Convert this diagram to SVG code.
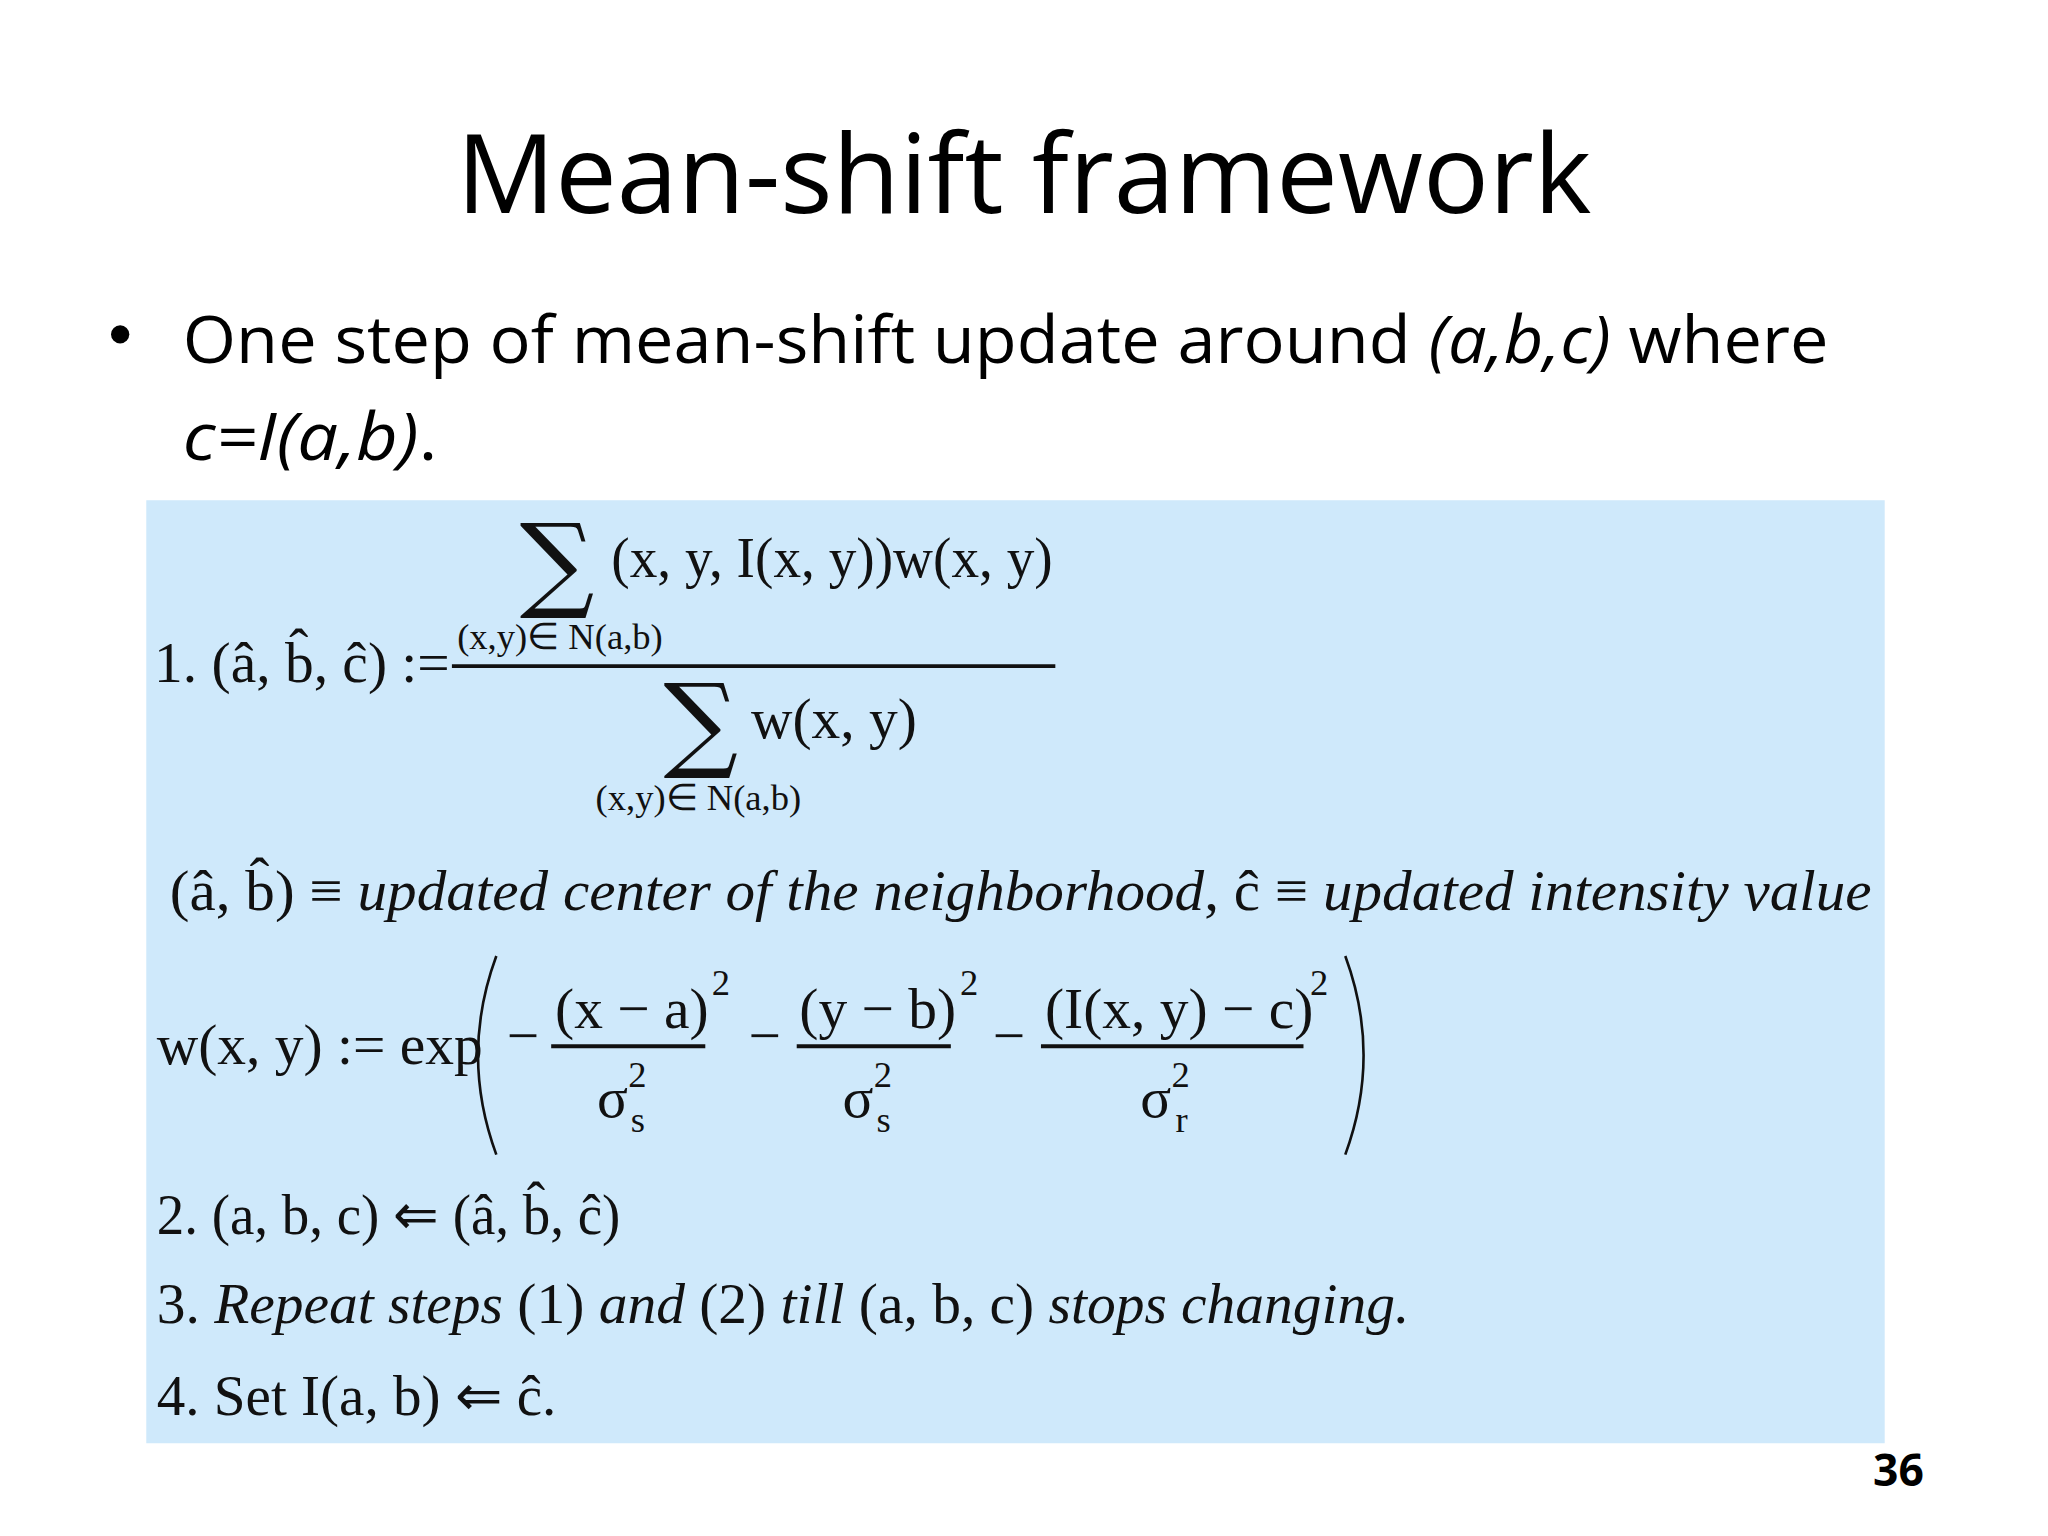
<svg xmlns="http://www.w3.org/2000/svg" width="2048" height="1536" viewBox="0 0 2048 1536">
<style>
.m{font-family:"Liberation Serif",serif;font-size:44px;fill:#111}
.s{font-family:"Liberation Serif",serif;font-size:28px;fill:#111}
.i{font-style:italic}
.c{font-family:"Open Sans","Noto Sans",sans-serif;fill:#000}
.big{font-family:"DejaVu Serif","Liberation Serif",serif;font-size:80px;fill:#111}
</style>
<rect width="2048" height="1536" fill="#fff"/>
<g transform="scale(1.3061)">
<g id="title"><text class="c" x="784" y="163" font-size="84" text-anchor="middle">Mean-shift framework</text></g>
<g id="bullet">
<circle cx="92" cy="256" r="7" fill="#000"/>
<text class="c" x="140" y="278" font-size="50" textLength="1260" lengthAdjust="spacingAndGlyphs">One step of mean-shift update around <tspan font-style="italic">(a,b,c)</tspan> where</text>
<text class="c" x="140" y="352" font-size="50" font-style="italic" textLength="195" lengthAdjust="spacingAndGlyphs">c=I(a,b)<tspan font-style="normal">.</tspan></text>
</g>
<g id="box">
<rect x="112" y="383" width="1331" height="722" fill="#cfe9fb"/>
<text class="big" x="398" y="458">∑</text>
<text class="m" x="468" y="442" textLength="338" lengthAdjust="spacingAndGlyphs">(x, y, I(x, y))w(x, y)</text>
<text class="s" x="350" y="497">(x,y)∈ N(a,b)</text>
<text class="m" x="118" y="522">1.  (â, b̂, ĉ) :=</text>
<line x1="346" y1="510" x2="808" y2="510" stroke="#111" stroke-width="3"/>
<text class="big" x="508" y="580">∑</text>
<text class="m" x="575" y="565">w(x, y)</text>
<text class="s" x="456" y="620">(x,y)∈ N(a,b)</text>
<text class="m" x="130" y="697" textLength="1303" lengthAdjust="spacingAndGlyphs">(â, b̂) ≡  <tspan class="i">updated center of  the neighborhood</tspan>, ĉ ≡ <tspan class="i">updated intensity value</tspan></text>
<text class="m" x="120" y="815">w(x, y) :=  exp</text>
<path d="M380 732 Q352 808 380 884" fill="none" stroke="#111" stroke-width="2"/>
<path d="M1030 732 Q1058 808 1030 884" fill="none" stroke="#111" stroke-width="2"/>
<text class="m" x="388" y="808">−</text>
<text class="m" x="425" y="787">(x − a)</text><text class="s" x="545" y="762">2</text>
<line x1="422" y1="801" x2="540" y2="801" stroke="#111" stroke-width="3"/>
<text class="m" x="457" y="855">σ</text><text class="s" x="481" y="832">2</text><text class="s" x="483" y="867">s</text>
<text class="m" x="573" y="808">−</text>
<text class="m" x="612" y="787">(y − b)</text><text class="s" x="735" y="762">2</text>
<line x1="610" y1="801" x2="728" y2="801" stroke="#111" stroke-width="3"/>
<text class="m" x="645" y="855">σ</text><text class="s" x="669" y="832">2</text><text class="s" x="671" y="867">s</text>
<text class="m" x="760" y="808">−</text>
<text class="m" x="800" y="787">(I(x, y) − c)</text><text class="s" x="1003" y="762">2</text>
<line x1="797" y1="801" x2="998" y2="801" stroke="#111" stroke-width="3"/>
<text class="m" x="873" y="855">σ</text><text class="s" x="897" y="832">2</text><text class="s" x="900" y="867">r</text>
<text class="m" x="120" y="945" textLength="355" lengthAdjust="spacingAndGlyphs">2. (a, b, c) ⇐  (â, b̂, ĉ)</text>
<text class="m" x="120" y="1013">3. <tspan class="i">Repeat steps</tspan> (1) <tspan class="i">and</tspan> (2) <tspan class="i">till</tspan> (a, b, c) <tspan class="i">stops changing.</tspan></text>
<text class="m" x="120" y="1083" textLength="306" lengthAdjust="spacingAndGlyphs">4. Set I(a, b) ⇐  ĉ.</text>
</g>
<g id="page"><text class="c" x="1473" y="1138" font-size="34" font-weight="bold" text-anchor="end">36</text></g>
</g>
</svg>
